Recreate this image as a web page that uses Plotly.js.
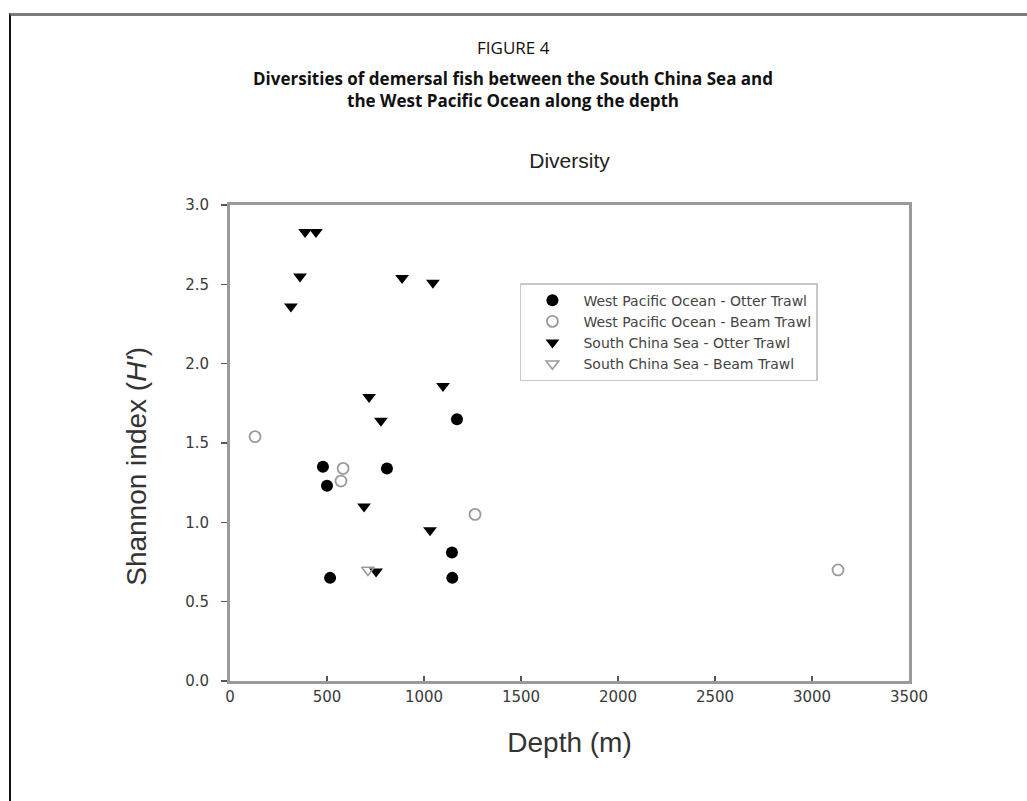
<!DOCTYPE html>
<html>
<head>
<meta charset="utf-8">
<script src="https://cdn.plot.ly/plotly-3.0.1.min.js"></script>
<style>
  html, body { margin: 0; padding: 0; background: #fff; }
  #chart { width: 1027px; height: 801px; }
  #frame { position: absolute; left: 9px; top: 13px; width: 1030px; height: 800px;
           border-top: 3px solid #7a7a7a; border-left: 2px solid #111; pointer-events: none; }
</style>
</head>
<body>
<div id="chart"></div>
<div id="frame"></div>
<script>
// Depth (m) and Shannon index (H') per series
const wpoOtterDepth = [1170, 479, 809, 500, 1144, 516, 1146];
const wpoOtterH     = [1.65, 1.35, 1.34, 1.23, 0.81, 0.65, 0.65];

const wpoBeamDepth  = [129, 583, 572, 1263, 3134];
const wpoBeamH      = [1.54, 1.34, 1.26, 1.05, 0.70];

const scsOtterDepth = [387, 443, 361, 314, 887, 1046, 1098, 717, 778, 691, 1031, 753];
const scsOtterH     = [2.83, 2.83, 2.55, 2.36, 2.54, 2.51, 1.86, 1.79, 1.64, 1.10, 0.95, 0.69];

const scsBeamDepth  = [711];
const scsBeamH      = [0.70];

const seriesNames = [
  'West Pacific Ocean - Otter Trawl',
  'West Pacific Ocean - Beam Trawl',
  'South China Sea - Otter Trawl',
  'South China Sea - Beam Trawl'
];
const xTicks = [0, 500, 1000, 1500, 2000, 2500, 3000, 3500];
const yTicks = [0.0, 0.5, 1.0, 1.5, 2.0, 2.5, 3.0];

const traces = [
  { x: wpoOtterDepth, y: wpoOtterH, name: seriesNames[0], type: 'scatter', mode: 'markers',
    marker: { symbol: 'circle', size: 12, color: '#000' } },
  { x: wpoBeamDepth, y: wpoBeamH, name: seriesNames[1], type: 'scatter', mode: 'markers',
    marker: { symbol: 'circle-open', size: 11, color: '#9a9a9a', line: { width: 1.8, color: '#9a9a9a' } } },
  { x: scsOtterDepth, y: scsOtterH, name: seriesNames[2], type: 'scatter', mode: 'markers',
    marker: { symbol: 'triangle-down', size: 12, color: '#000' } },
  { x: scsBeamDepth, y: scsBeamH, name: seriesNames[3], type: 'scatter', mode: 'markers',
    marker: { symbol: 'triangle-down-open', size: 11, color: '#9a9a9a', line: { width: 1.6, color: '#9a9a9a' } } }
];

const tickFont = { family: 'DejaVu Sans, sans-serif', size: 15, color: '#3a3a3a' };
const axisCommon = {
  showline: true, linecolor: '#9a9a9a', linewidth: 3, mirror: true,
  showgrid: false, zeroline: false,
  tickwidth: 1.5, tickcolor: '#555', tickfont: tickFont
};

const layout = {
  width: 1027, height: 801,
  paper_bgcolor: '#fff', plot_bgcolor: '#fff',
  margin: { l: 230, r: 118, t: 205, b: 120 },
  showlegend: true,
  title: {
    text: 'Diversity', x: 0.5, xref: 'paper', xanchor: 'center',
    y: 1, yref: 'paper', yanchor: 'bottom', pad: { b: 37 },
    font: { family: 'Liberation Sans, Arial, sans-serif', size: 21, color: '#222' }
  },
  xaxis: Object.assign({}, axisCommon, {
    range: [0, 3500], tickvals: xTicks, ticktext: xTicks.map(String),
    ticks: 'inside', ticklen: 5,
    title: { text: 'Depth (m)', standoff: 28,
      font: { family: 'Liberation Sans, Arial, sans-serif', size: 28, color: '#333' } }
  }),
  yaxis: Object.assign({}, axisCommon, {
    range: [0, 3], tickvals: yTicks, ticktext: yTicks.map(v => v.toFixed(1)),
    ticks: 'outside', ticklen: 6, ticklabelstandoff: 9
  }),
  legend: {
    x: 0.427, y: 0.836, xanchor: 'left', yanchor: 'top',
    bgcolor: '#fff', bordercolor: '#c8c8c8', borderwidth: 1.5,
    font: { family: 'DejaVu Sans, sans-serif', size: 14, color: '#444' },
    tracegroupgap: 0, itemwidth: 52
  },
  annotations: [
    { text: 'FIGURE 4', xref: 'paper', yref: 'paper', x: 0.417, y: 1, yshift: 158,
      xanchor: 'center', yanchor: 'middle', showarrow: false,
      font: { family: 'Open Sans, sans-serif', size: 17, color: '#111' } },
    { text: '<b>Diversities of demersal fish between the South China Sea and<br>the West Pacific Ocean along the depth</b>',
      xref: 'paper', yref: 'paper', x: 0.417, y: 1, yshift: 116,
      xanchor: 'center', yanchor: 'middle', showarrow: false,
      font: { family: 'Open Sans, sans-serif', size: 17, color: '#111' } },
    { text: "Shannon index (<i>H'</i>)", textangle: -90,
      xref: 'paper', yref: 'paper', x: 0, xshift: -93, y: 0.45,
      xanchor: 'center', yanchor: 'middle', showarrow: false,
      font: { family: 'Liberation Sans, Arial, sans-serif', size: 28, color: '#333' } }
  ]
};

Plotly.newPlot('chart', traces, layout, { displayModeBar: false, staticPlot: true });
</script>
</body>
</html>
